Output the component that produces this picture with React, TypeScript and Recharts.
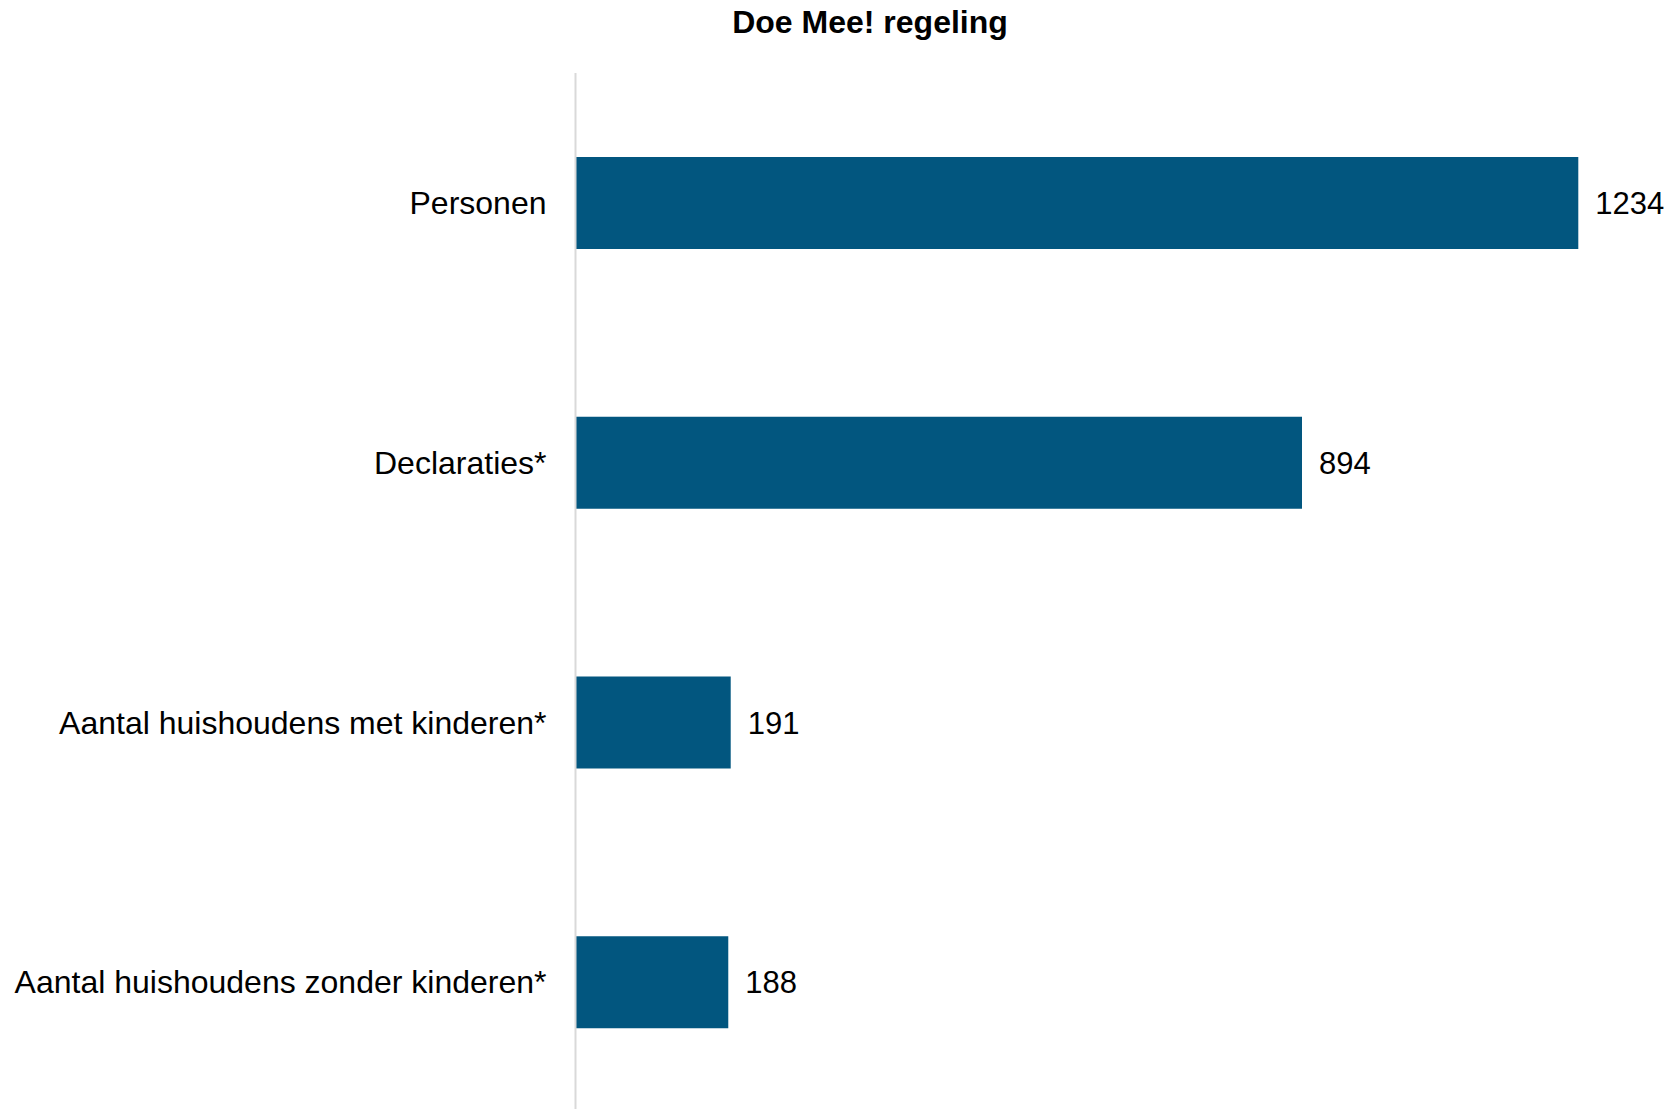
import React from "react";
import { BarChart, Bar, XAxis, YAxis, LabelList } from "recharts";

const categories = [
  "Personen",
  "Declaraties*",
  "Aantal huishoudens met kinderen*",
  "Aantal huishoudens zonder kinderen*",
];
const values = [1234, 894, 191, 188];

const data = categories.map((name, i) => ({ name, value: values[i] }));

const font = "Arial, 'Liberation Sans', sans-serif";

export default function App() {
  return (
    <div
      style={{
        position: "absolute",
        left: 0,
        top: 0,
        width: 1671,
        height: 1109,
        overflow: "hidden",
        background: "#fff",
        fontFamily: font,
      }}
    >
      <div
        style={{
          position: "absolute",
          left: 570,
          top: 6,
          width: 600,
          textAlign: "center",
          fontSize: 32,
          lineHeight: "32px",
          fontWeight: "bold",
          color: "#000",
        }}
      >
        Doe Mee! regeling
      </div>
      <BarChart
        width={1671}
        height={1120}
        data={data}
        layout="vertical"
        margin={{ top: 73, right: 92.7, left: 0, bottom: 8 }}
      >
        <XAxis type="number" domain={[0, 1234]} hide />
        <YAxis
          type="category"
          dataKey="name"
          width={575.5}
          tickSize={0}
          tickMargin={29}
          axisLine={{ stroke: "#d9d9d9", strokeWidth: 2 }}
          tickLine={false}
          tick={{ fill: "#000", fontSize: 32, fontFamily: font }}
          interval={0}
        />
        <Bar
          dataKey="value"
          fill="#02567f"
          barSize={92}
          isAnimationActive={false}
        >
          <LabelList
            dataKey="value"
            position="right"
            offset={17}
            fill="#000"
            fontSize={31}
            fontFamily={font}
          />
        </Bar>
      </BarChart>
    </div>
  );
}
